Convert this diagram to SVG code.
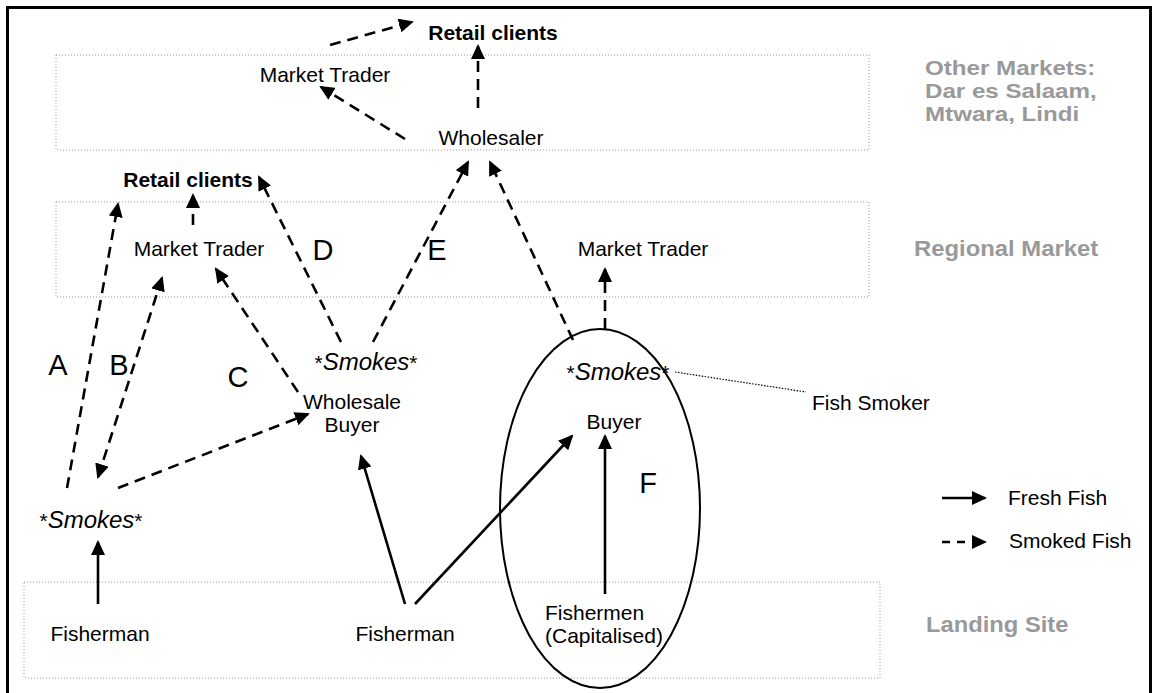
<svg xmlns="http://www.w3.org/2000/svg" width="1157" height="693" viewBox="0 0 1157 693">
  <style>
    .t { font-family: "Liberation Sans", Arial, sans-serif; font-size: 21px; fill: #000; }
    .b { font-weight: bold; }
    .smk { font-family: "Liberation Sans", Arial, sans-serif; font-size: 24px; font-style: italic; fill: #000; }
    .smk tspan.ast { font-style: normal; font-size: 21px; }
    .lbl { font-family: "Liberation Sans", Arial, sans-serif; font-size: 29px; fill: #000; text-anchor: middle; }
    .tier { font-family: "Liberation Sans", Arial, sans-serif; font-size: 22px; font-weight: bold; fill: #999; }
    .tier.sm { font-size: 21px; }
    .zone { fill: none; stroke: #9a9a9a; stroke-width: 1; stroke-dasharray: 1 2; }
    .fresh { fill: none; stroke: #000; stroke-width: 2.6; marker-end: url(#ah); }
    .smoked { fill: none; stroke: #000; stroke-width: 2.6; stroke-dasharray: 11 7; marker-end: url(#ah); }
    .mid { text-anchor: middle; }
  </style>
  <defs>
    <marker id="ah" viewBox="0 0 15 14" refX="13" refY="7" markerWidth="15" markerHeight="14" markerUnits="userSpaceOnUse" orient="auto">
      <path d="M0,0 L15,7 L0,14 z" fill="#000"/>
    </marker>
    <marker id="ahs" viewBox="0 0 15 14" refX="13" refY="7" markerWidth="15" markerHeight="14" markerUnits="userSpaceOnUse" orient="auto-start-reverse">
      <path d="M0,0 L15,7 L0,14 z" fill="#000"/>
    </marker>
  </defs>

  <rect width="1157" height="693" fill="#fff"/>
  <!-- frame (bottom edge runs off the page) -->
  <rect x="7.5" y="7.5" width="1143" height="700" fill="none" stroke="#000" stroke-width="3"/>

  <!-- market tiers -->
  <g id="tiers">
    <rect class="zone" x="56" y="55" width="813" height="95"/>
    <rect class="zone" x="56" y="202" width="813" height="95"/>
    <rect class="zone" x="24" y="582" width="856" height="96"/>
    <g transform="translate(925 0) scale(1.15 1)">
      <text class="tier sm" x="0" y="75">Other Markets:</text>
      <text class="tier sm" x="0" y="98">Dar es Salaam,</text>
      <text class="tier sm" x="0" y="121">Mtwara, Lindi</text>
    </g>
    <g transform="translate(914 0) scale(1.085 1)">
      <text class="tier" x="0" y="256">Regional Market</text>
    </g>
    <g transform="translate(926 0) scale(1.08 1)">
      <text class="tier" x="0" y="632">Landing Site</text>
    </g>
  </g>

  <!-- buyer/smoker group -->
  <ellipse id="group-f" cx="600" cy="508.5" rx="100" ry="179.5" fill="none" stroke="#000" stroke-width="2"/>

  <g id="connectors">
    <!-- smoked fish -->
    <line class="smoked" x1="330" y1="45" x2="412" y2="22"/>
    <line class="smoked" x1="478" y1="108" x2="478" y2="46"/>
    <line class="smoked" x1="405" y1="139" x2="321" y2="87"/>
    <line class="smoked" x1="193" y1="225" x2="193" y2="195"/>
    <line class="smoked" x1="67" y1="488" x2="118" y2="204"/>
    <line class="smoked" x1="98" y1="477" x2="162" y2="278" marker-start="url(#ahs)" marker-end="url(#ahs)"/>
    <line class="smoked" x1="298" y1="392" x2="216" y2="269"/>
    <line class="smoked" x1="118" y1="488" x2="308" y2="414"/>
    <line class="smoked" x1="341" y1="342" x2="259" y2="177"/>
    <line class="smoked" x1="373" y1="342" x2="468" y2="162"/>
    <line class="smoked" x1="573" y1="340" x2="490" y2="162"/>
    <line class="smoked" x1="605" y1="329" x2="605" y2="269"/>
    <!-- fresh fish -->
    <line class="fresh" x1="98" y1="604" x2="98" y2="542"/>
    <line class="fresh" x1="405" y1="604" x2="361" y2="456"/>
    <line class="fresh" x1="415" y1="604" x2="572" y2="436"/>
    <line class="fresh" x1="605" y1="594" x2="605" y2="436"/>
    <!-- smoker annotation -->
    <line x1="675" y1="372" x2="806" y2="392" stroke="#000" stroke-width="1.2" stroke-dasharray="1.5 1.5"/>
  </g>

  <g id="retail-top"><text class="t b mid" x="493" y="40">Retail clients</text></g>
  <g id="trader-top"><text class="t mid" x="325" y="82">Market Trader</text></g>
  <g id="wholesaler"><text class="t mid" x="491" y="145">Wholesaler</text></g>
  <g id="retail-regional"><text class="t b mid" x="188" y="187">Retail clients</text></g>
  <g id="trader-left"><text class="t mid" x="199" y="256">Market Trader</text></g>
  <g id="trader-right"><text class="t mid" x="643" y="256">Market Trader</text></g>

  <g id="smokes-left"><text class="smk mid" x="91" y="528"><tspan class="ast">*</tspan>Smokes<tspan class="ast">*</tspan></text></g>
  <g id="smokes-mid"><text class="smk mid" x="366" y="370"><tspan class="ast">*</tspan>Smokes<tspan class="ast">*</tspan></text></g>
  <g id="smokes-right"><text class="smk mid" x="618" y="380"><tspan class="ast">*</tspan>Smokes<tspan class="ast">*</tspan></text></g>

  <g id="wholesale-buyer">
    <text class="t mid" x="352" y="409">Wholesale</text>
    <text class="t mid" x="352" y="432">Buyer</text>
  </g>
  <g id="buyer"><text class="t mid" x="614" y="429">Buyer</text></g>
  <g id="fish-smoker"><text class="t" x="812" y="410">Fish Smoker</text></g>

  <g id="fisherman-left"><text class="t mid" x="100" y="641">Fisherman</text></g>
  <g id="fisherman-mid"><text class="t mid" x="405" y="641">Fisherman</text></g>
  <g id="fishermen-cap">
    <text class="t" x="545" y="620">Fishermen</text>
    <text class="t" x="545" y="643">(Capitalised)</text>
  </g>

  <g id="route-labels">
    <text class="lbl" x="58" y="375">A</text>
    <text class="lbl" x="119" y="375">B</text>
    <text class="lbl" x="238" y="387">C</text>
    <text class="lbl" x="323" y="260">D</text>
    <text class="lbl" x="437" y="260">E</text>
    <text class="lbl" x="648" y="493">F</text>
  </g>

  <g id="legend">
    <line x1="942" y1="498" x2="985" y2="498" stroke="#000" stroke-width="2.6" marker-end="url(#ah)"/>
    <text class="t" x="1008" y="505">Fresh Fish</text>
    <line x1="942" y1="542" x2="985" y2="542" stroke="#000" stroke-width="2.6" stroke-dasharray="8 7" marker-end="url(#ah)"/>
    <text class="t" x="1009" y="548">Smoked Fish</text>
  </g>
</svg>
